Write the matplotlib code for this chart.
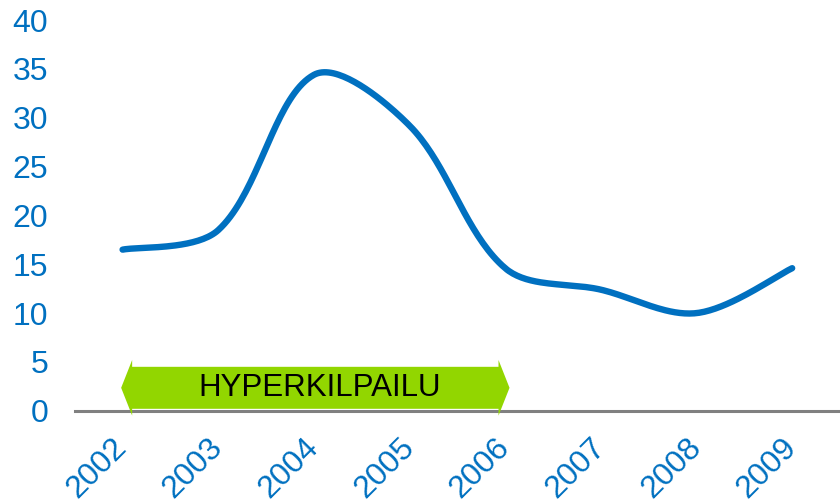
import numpy as np
import matplotlib
matplotlib.use('Agg')
import matplotlib.pyplot as plt
from matplotlib.patches import Polygon

years = ['2002', '2003', '2004', '2005', '2006', '2007', '2008', '2009']
values = [16.5, 18.5, 34.4, 29.2, 14.6, 12.4, 10.0, 14.6]
band_label = 'HYPERKILPAILU'
band_start, band_end = '2002', '2006'

BLUE = '#0070C0'
GREEN = '#92D600'

plt.rcParams['font.family'] = ['Liberation Sans', 'DejaVu Sans']

fig = plt.figure(figsize=(8.4, 5.04), dpi=100)
ax = fig.add_axes([0.089, 0.185, 0.911, 0.775])
ax.set_xlim(-0.5, len(years) - 0.5)
ax.set_ylim(0, 40)

# smoothed line like excel: bezier, tangents weighted by segment length (screen space)
def smooth(ax, x, y, n=40):
    pts = ax.transData.transform(np.column_stack([x, y]).astype(float))
    p = np.vstack([pts[0], pts, pts[-1]])
    out = []
    t = np.linspace(0, 1, n)[:, None]
    for i in range(1, len(p) - 2):
        a, b = p[i], p[i + 1]
        l_prev = np.hypot(*(p[i] - p[i - 1]))
        l_cur = np.hypot(*(b - a))
        l_next = np.hypot(*(p[i + 2] - b))
        w1 = l_cur / (l_prev + l_cur) if l_prev > 0 else 0.5
        w2 = l_cur / (l_cur + l_next) if l_next > 0 else 0.5
        c1 = a + (p[i + 1] - p[i - 1]) * w1 / 3
        c2 = b - (p[i + 2] - p[i]) * w2 / 3
        seg = (1 - t)**3 * a + 3 * (1 - t)**2 * t * c1 + 3 * (1 - t) * t**2 * c2 + t**3 * b
        out.append(seg)
    out = ax.transData.inverted().transform(np.vstack(out))
    return out[:, 0], out[:, 1]

x = np.arange(len(years))
sx, sy = smooth(ax, x, values)
ax.plot(sx, sy, color=BLUE, lw=4.6, solid_capstyle='round', zorder=3)

# green double arrow
x0 = years.index(band_start) + 0.1
x1 = years.index(band_end) - 0.07
hl = 0.115
arrow = Polygon([(x0 - hl, 2.35), (x0, 5.2), (x0, 4.5), (x1, 4.5), (x1, 5.2),
                 (x1 + hl, 2.35), (x1, -0.5), (x1, 0.2), (x0, 0.2), (x0, -0.5)],
                closed=True, facecolor=GREEN, edgecolor='none', zorder=2, clip_on=False)
ax.add_patch(arrow)
ax.text((x0 + x1) / 2 + 0.04, 2.35, band_label, ha='center', va='center',
        fontsize=22.5, color='black', zorder=4)

ax.set_yticks(range(0, 41, 5))
ax.set_xticks(x)
ax.set_xticklabels(years, rotation=45, ha='right', va='center', rotation_mode='anchor')
ax.tick_params(axis='both', length=0, labelsize=23, labelcolor=BLUE)
ax.tick_params(axis='y', pad=19)
ax.tick_params(axis='x', pad=23)

for s in ['top', 'right', 'left']:
    ax.spines[s].set_visible(False)
ax.spines['bottom'].set_color('#808080')
ax.spines['bottom'].set_linewidth(2.2)
ax.spines['bottom'].set_zorder(1)

fig.savefig('out.png', dpi=100)
